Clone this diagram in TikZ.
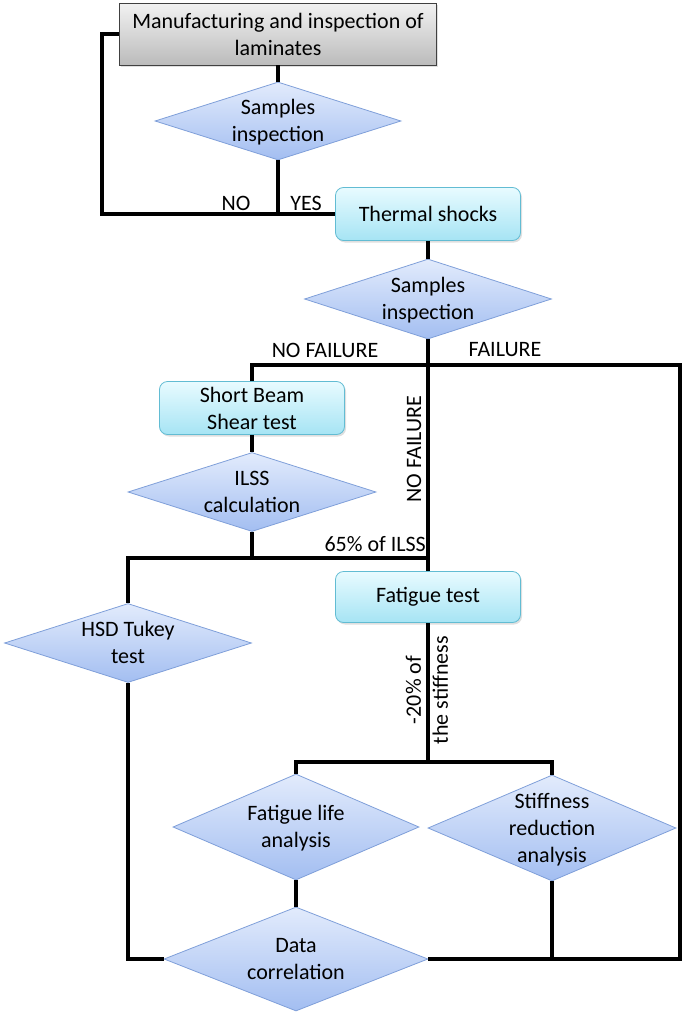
\documentclass[tikz,border=0pt]{standalone}
\usepackage{fontspec}
\setmainfont{Carlito}
\usepackage{tikz}
\usetikzlibrary{shapes,shadows}
\definecolor{diaT}{HTML}{E2EBFC}
\definecolor{diaB}{HTML}{A3BEF1}
\definecolor{diaD}{HTML}{7F9FD9}
\definecolor{boxT}{HTML}{E8FBFF}
\definecolor{boxB}{HTML}{A6E4F4}
\definecolor{boxD}{HTML}{62BCD3}
\definecolor{grT}{HTML}{F2F2F2}
\definecolor{grB}{HTML}{BBBBBB}
\newcommand\dtxt[1]{\makebox[0pt]{\raisebox{-.32em}[0pt][0pt]{\begin{tabular}{@{}c@{}}#1\end{tabular}}}}

\begin{document}
\begin{tikzpicture}[x=1pt,y=-1pt,font=\fontsize{22}{27}\selectfont,
	ln/.style={line width=3.4pt},
	dec/.style={diamond,draw=diaD,line width=.8pt,top color=diaT,bottom color=diaB,inner sep=0pt,minimum width=#1},
	rbox/.style={rectangle,rounded corners=8pt,draw=boxD,line width=.8pt,top color=boxT,bottom color=boxB,align=center,
		minimum width=185pt,minimum height=53pt,drop shadow={opacity=.25,shadow xshift=1.5pt,shadow yshift=-2pt}}]
	\useasboundingbox (0,0) rectangle (685,1017);
	\node[rectangle,draw=black!75,line width=.8pt,top color=grT,bottom color=grB,align=center,minimum width=317pt,minimum height=62pt,
		drop shadow={opacity=.25,shadow xshift=1.5pt,shadow yshift=-2pt}] (man) at (278,34) {Manufacturing and inspection of\\laminates};
	\node[dec=246pt,minimum height=78pt] (d1) at (278,121) {\dtxt{Samples\\inspection}};
	\node[rbox] (ts) at (428,214) {Thermal shocks};
	\node[dec=247pt,minimum height=80pt] (d2) at (428,299) {\dtxt{Samples\\inspection}};
	\node[rbox] (sbs) at (252,408) {Short Beam\\Shear test};
	\node[dec=248pt,minimum height=79pt] (ilss) at (252,492) {\dtxt{ILSS\\calculation}};
	\node[rbox,minimum height=51pt] (fat) at (428,597) {Fatigue test};
	\node[dec=247pt,minimum height=79pt] (hsd) at (128,643) {\dtxt{HSD Tukey\\test}};
	\node[dec=246pt,minimum height=106pt] (fla) at (296,827) {\dtxt{Fatigue life\\analysis}};
	\node[dec=248pt,minimum height=106pt] (srd) at (552,828) {\dtxt{Stiffness\\reduction\\analysis}};
	\node[dec=264pt,minimum height=104pt] (dc) at (296,959) {\dtxt{Data\\correlation}};
	\coordinate (j1) at (278,214);
	\coordinate (lp) at (102,214);
	\coordinate (rt) at (680,365);
	\coordinate (rb) at (680,959);
	\coordinate (j3) at (428,558);
	\coordinate (j4) at (428,762);
	\draw[ln] (man) -- (d1);
	\draw[ln] (d1) -- (j1) -- (ts);
	\draw[ln] (j1) -- (lp) |- (man.west);
	\draw[ln] (ts) -- (d2);
	\draw[ln] (d2) -- (fat);
	\draw[ln] (sbs.north) |- (rt) -- (rb) -- (dc.east);
	\draw[ln] (sbs) -- (ilss);
	\draw[ln] (ilss) -- (ilss |- j3);
	\draw[ln] (hsd) |- (j3);
	\draw[ln] (hsd) |- (dc);
	\draw[ln] (fat) -- (j4);
	\draw[ln] (fla) |- (j4) -| (srd);
	\draw[ln] (fla) -- (dc);
	\draw[ln] (srd) -- (srd |- dc);
	\node (lno) at (236,203) {NO};
	\node (lyes) at (306,203) {YES};
	\node (lnf) at (325,350) {NO FAILURE};
	\node (lf) at (505,350) {FAILURE};
	\node[rotate=90] (lnf2) at (414,449) {NO FAILURE};
	\node[anchor=east,inner sep=1pt] (lpct) at (427,544) {65\% of ILSS};
	\node[rotate=90,align=center] (lstf) at (427,690) {-20\% of\\the stiffness};
\end{tikzpicture}
\end{document}
